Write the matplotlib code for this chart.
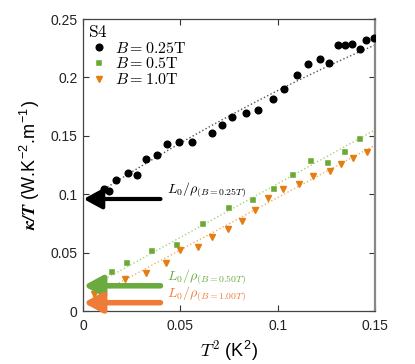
import numpy as np
import matplotlib
matplotlib.use("Agg")
import matplotlib.pyplot as plt

plt.rcParams["font.family"] = ["Liberation Sans", "DejaVu Sans"]
plt.rcParams["mathtext.fontset"] = "cm"

# B = 0.25 T
t2_025 = [0.0108, 0.0134, 0.0170, 0.0231, 0.0277, 0.0324, 0.0380, 0.0432, 0.0493,
          0.0560, 0.0663, 0.0714, 0.0765, 0.0837, 0.0899, 0.0976, 0.1033, 0.1099,
          0.1156, 0.1217, 0.1264, 0.1310, 0.1346, 0.1382, 0.1423, 0.1454, 0.1495]
k_025 = [0.1045, 0.1027, 0.1122, 0.1182, 0.1164, 0.1301, 0.1336, 0.1430, 0.1447,
         0.1447, 0.1524, 0.1592, 0.1661, 0.1695, 0.1721, 0.1815, 0.1901, 0.2021,
         0.2115, 0.2158, 0.2123, 0.2277, 0.2277, 0.2286, 0.2243, 0.2320, 0.2337]

# B = 0.5 T
t2_05 = [0.0149, 0.0226, 0.0354, 0.0483, 0.0616, 0.0750, 0.0873, 0.0981, 0.1079,
         0.1171, 0.1259, 0.1346, 0.1423]
k_05 = [0.0334, 0.0411, 0.0514, 0.0565, 0.0745, 0.0882, 0.0950, 0.1045, 0.1164,
        0.1284, 0.1267, 0.1361, 0.1473]

# B = 1.0 T
t2_10 = [0.0057, 0.0103, 0.0216, 0.0324, 0.0426, 0.0498, 0.0591, 0.0663, 0.0745,
         0.0817, 0.0884, 0.0950, 0.1027, 0.1110, 0.1182, 0.1269, 0.1325, 0.1387, 0.1459]
k_10 = [0.0146, 0.0197, 0.0274, 0.0325, 0.0411, 0.0522, 0.0548, 0.0634, 0.0702,
        0.0771, 0.0865, 0.0967, 0.1045, 0.1087, 0.1156, 0.1199, 0.1259, 0.1310, 0.1361]

# fits (a + b*T^2 + c*T^4), start of the dotted line
fit_025 = (0.0928, 1.077, -1.183, 0.0077)
fit_05 = (0.017, 0.92, 0.0, 0.0077)
fit_10 = (0.0074, 0.897, 0.0, 0.0051)

# L0/rho levels
l0_rho = [0.0959, 0.0216, 0.0071]
l0_labels = [r"$L_0/\rho_{(B=0.25T)}$", r"$L_0/\rho_{(B=0.50T)}$", r"$L_0/\rho_{(B=1.00T)}$"]

black = "black"
green = "#6aa933"
orange = "#e57e12"

fig = plt.figure(figsize=(4.15, 3.64), dpi=100)
ax = fig.add_axes([0.2, 0.1456, 0.7036, 0.8022])


def fit_line(p, color):
    a, b, c, x0 = p
    x = np.linspace(x0, 0.15, 100)
    ax.plot(x, a + b * x + c * x ** 2, ":", color=color, lw=1.0, zorder=1)


fit_line(fit_025, "#555555")
fit_line(fit_05, "#a6d27d")
fit_line(fit_10, "#f3ae63")

ax.plot(t2_025, k_025, "o", color=black, ms=4.8, ls="none", label=r"$B = 0.25\mathrm{T}$", zorder=3)
ax.plot(t2_05, k_05, "s", color=green, ms=3.8, ls="none", mec="white", mew=0.3,
        label=r"$B = 0.5\mathrm{T}$", zorder=3)
ax.plot(t2_10, k_10, "v", color=orange, ms=5, ls="none", label=r"$B = 1.0\mathrm{T}$", zorder=3)

arrow_colors = ["black", "#6aaa3f", "#ee7c38"]
arrow_lw = [3, 4, 4]
label_dy = [0.0077, 0.0075, 0.0075]
text_colors = ["black", "#6aaa3f", "#ee7c38"]
for y, lab, c, lw, dy, tc in zip(l0_rho, l0_labels, arrow_colors, arrow_lw, label_dy, text_colors):
    ax.annotate("", xy=(0.0003, y), xytext=(0.0398, y),
                arrowprops=dict(arrowstyle="-|>,head_length=0.55,head_width=0.3",
                                color=c, lw=lw, shrinkA=0, shrinkB=0, mutation_scale=20),
                annotation_clip=False, zorder=4)
    ax.text(0.0432, y + dy, lab, color=tc, fontsize=10, va="center", ha="left")

ax.set_xlim(0, 0.15)
ax.set_ylim(0, 0.25)
ax.set_xticks([0, 0.05, 0.1, 0.15])
ax.set_xticklabels(["0", "0.05", "0.1", "0.15"])
ax.set_yticks([0, 0.05, 0.1, 0.15, 0.2, 0.25])
ax.set_yticklabels(["0", "0.05", "0.1", "0.15", "0.2", "0.25"])
ax.tick_params(direction="in", top=True, right=True, labelsize=10, length=4,
               color="#333333", labelcolor="#222222")
ax.tick_params(axis="x", pad=6)
ax.tick_params(axis="y", pad=4)
for s in ax.spines.values():
    s.set_color("#444444")
    s.set_linewidth(0.9)
ax.spines["right"].set_color("#888888")
ax.spines["right"].set_linewidth(1.6)

ax.set_xlabel(r"$T^2$ (K$^{\mathregular{2}}$)", fontsize=13, labelpad=4)
ax.set_ylabel(r"$\mathbfit{\kappa/T}$ (W.K$^{\mathregular{-2}}$.m$^{\mathregular{-1}}$)",
              fontsize=13, labelpad=6)

leg = ax.legend(loc="upper left", title=r"$\mathrm{S4}$", frameon=False, fontsize=11.5,
                handletextpad=0.3, handlelength=1.4, borderaxespad=0.15, borderpad=0.15,
                labelspacing=0.05, alignment="left", title_fontsize=12.5)

fig.savefig("out.png", dpi=100)
